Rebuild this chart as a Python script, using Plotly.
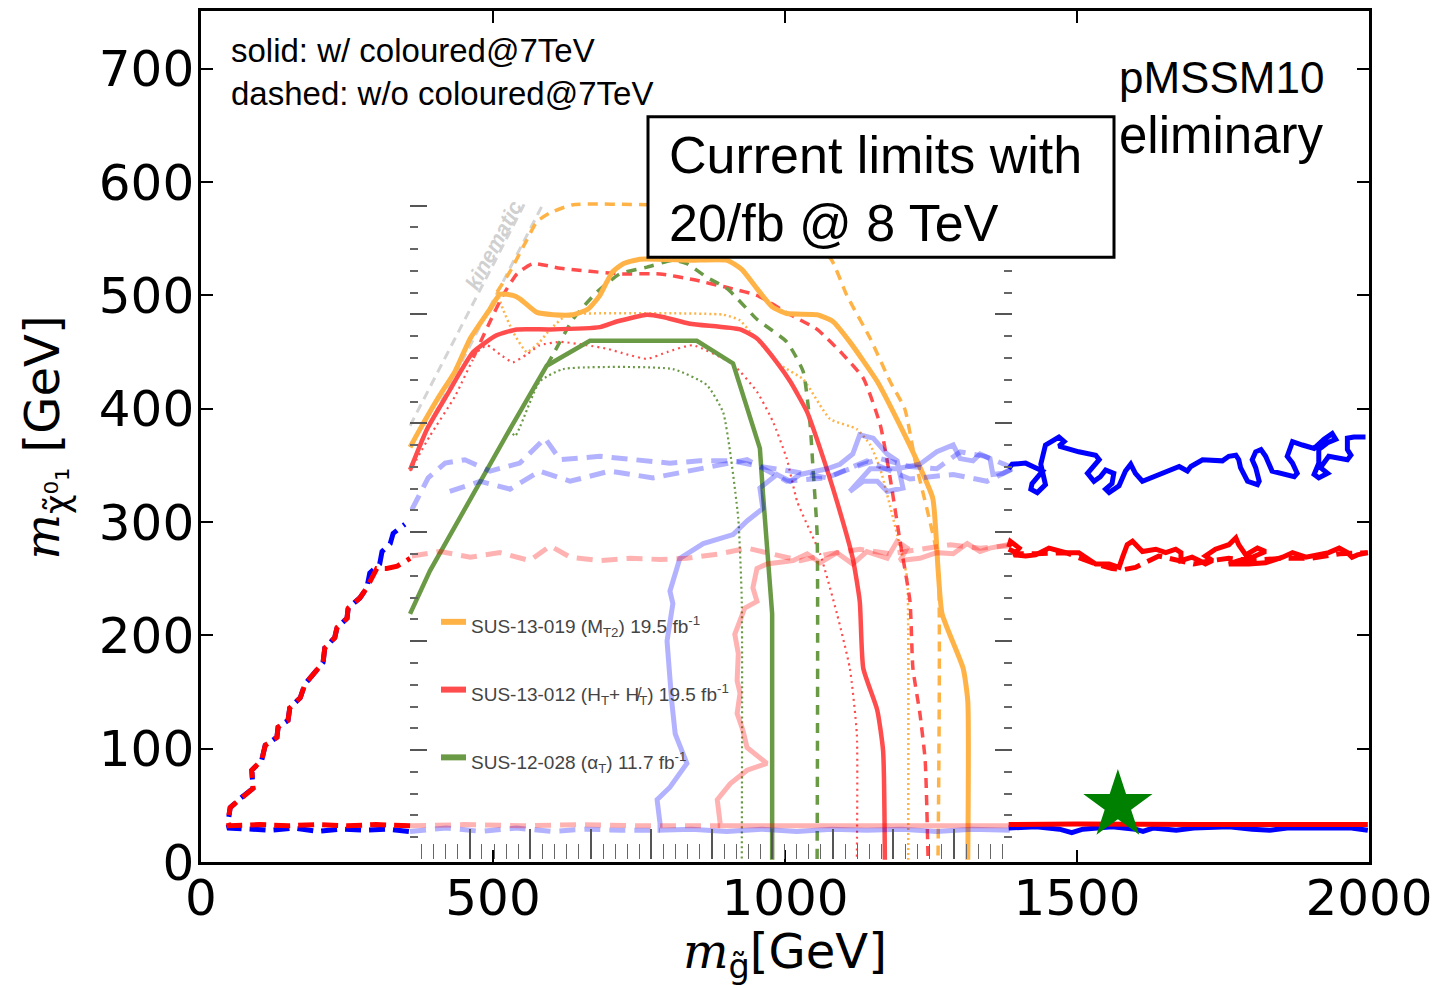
import plotly.graph_objects as go

NARROW = "Liberation Sans, Arial, sans-serif"
MAIN = "DejaVu Sans, sans-serif"

# ---------------- data (GeV) ----------------
# dark contours, left part (dashed)
blue_left_x = [356, 320, 280, 240, 200, 160, 120, 80, 48, 46, 50, 67, 89, 87, 104, 110, 130, 132, 149, 152,
               170, 178, 192, 209, 212, 229, 233, 250, 252, 272, 284, 289, 306, 310, 324, 329, 349]
blue_left_y = [27, 29, 28, 29, 27, 30, 28, 29, 30, 34, 48, 56, 65, 81, 90, 103, 110, 119, 125, 136,
               145, 157, 166, 176, 189, 198, 207, 215, 224, 233, 242, 255, 263, 274, 281, 290, 298]
red_left_x = [358, 300, 250, 200, 150, 100, 48, 46, 50, 67, 89, 87, 104, 110, 130, 132, 149, 152,
              170, 178, 192, 209, 212, 229, 233, 250, 252, 272, 284, 301, 318, 336, 358]
red_left_y = [32, 33, 32, 33, 32, 33, 32, 36, 48, 56, 65, 81, 90, 103, 110, 119, 125, 136,
              145, 157, 166, 176, 189, 198, 207, 215, 224, 233, 242, 259, 259, 261, 268]

# dark contours, right part (solid)
blue_right_x = [1383, 1389, 1412, 1441, 1423, 1421, 1432, 1446, 1438, 1446, 1469, 1478, 1469, 1503, 1532,
                1538, 1518, 1529, 1540, 1549, 1563, 1560, 1549, 1555, 1572, 1583, 1592, 1600, 1612, 1640,
                1675, 1689, 1695, 1715, 1749, 1760, 1772, 1777, 1780, 1792, 1809, 1812, 1806, 1800, 1806,
                1815, 1823, 1834, 1857, 1872, 1877, 1869, 1860, 1869, 1886, 1906, 1923, 1937, 1943, 1929,
                1914, 1914, 1906, 1914, 1929, 1917, 1931, 1963, 1969, 1963, 1963, 1974, 1994]
blue_right_y = [347, 351, 352, 345, 334, 329, 326, 333, 351, 368, 375, 371, 367, 362, 359,
                355, 343, 336, 340, 346, 343, 334, 329, 326, 332, 345, 351, 343, 336, 342,
                349, 345, 349, 355, 354, 358, 359, 355, 348, 336, 333, 336, 348, 355, 362,
                364, 358, 345, 342, 340, 343, 352, 358, 371, 368, 365, 373, 378, 373, 370,
                364, 352, 342, 339, 343, 348, 358, 355, 359, 364, 374, 375, 375]
red_right_x = [1383, 1386, 1401, 1392, 1412, 1429, 1452, 1481, 1503, 1532, 1555, 1572, 1578, 1586, 1595,
               1612, 1635, 1652, 1669, 1678, 1678, 1697, 1709, 1720, 1732, 1720, 1737, 1760, 1772, 1777,
               1789, 1800, 1809, 1823, 1800, 1777, 1760, 1794, 1823, 1852, 1869, 1892, 1909, 1931, 1949,
               1963, 1971, 1980, 1998]
red_right_y = [278, 283, 277, 271, 270, 271, 277, 273, 273, 263, 263, 260, 269, 280, 283,
               274, 276, 273, 276, 273, 266, 269, 266, 263, 266, 270, 276, 280, 286, 280,
               271, 274, 277, 274, 269, 266, 263, 263, 264, 269, 273, 269, 271, 273, 277,
               273, 269, 271, 273]
red_right_dash_x = [1383, 1401, 1430, 1481, 1532, 1560, 1580, 1600, 1640, 1680, 1700, 1730, 1760, 1800,
                    1850, 1900, 1950, 1998]
red_right_dash_y = [276, 272, 272, 273, 263, 259, 258, 260, 270, 265, 263, 266, 268, 266,
                    268, 268, 272, 273]
blue_bot_x = [1383, 1430, 1470, 1491, 1510, 1560, 1600, 1613, 1630, 1670, 1700, 1760, 1800, 1830, 1860,
              1920, 1970, 1998]
blue_bot_y = [30, 31, 29, 26, 29, 31, 29, 27, 30, 28, 30, 31, 29, 28, 30, 30, 30, 28]
red_bot_x = [1383, 1500, 1700, 1900, 1998]
red_bot_y = [33, 33.5, 33, 33.5, 33]

# faded contours (seen through the inset)
fblue_solid_x = [1385, 1320, 1260, 1200, 1140, 1080, 1020, 960, 900, 840,
                 786, 786, 781, 803, 832, 812, 806, 798, 808, 803, 820, 860, 911, 935, 962, 957, 986,
                 1009, 1026, 1072, 1094, 1116, 1128, 1151, 1175, 1192, 1202, 1175, 1158, 1134, 1111,
                 1146, 1192, 1231, 1260, 1288, 1300, 1322, 1334, 1351, 1356, 1373, 1389]
fblue_solid_y = [28, 29, 27, 29, 28, 29, 27, 29, 27, 29,
                 28, 34, 55, 66, 87, 113, 142, 195, 228, 239, 268, 281, 289, 301, 312, 330, 342,
                 336, 342, 347, 351, 360, 377, 374, 360, 354, 330, 327, 336, 336, 327,
                 347, 347, 351, 362, 368, 356, 354, 360, 356, 342, 343, 347]
fblue_dash_a_x = [361, 389, 418, 452, 495, 546, 589, 615, 683, 752, 803, 854, 911, 957, 1009, 1072, 1111,
                  1163, 1214, 1260, 1300, 1342, 1385]
fblue_dash_a_y = [311, 339, 352, 355, 345, 352, 374, 355, 358, 354, 352, 354, 354, 349, 345, 339, 347,
                  356, 349, 347, 362, 358, 349]
fblue_dash_b_x = [426, 478, 529, 580, 632, 700, 774, 854, 935, 1003, 1072, 1140, 1214, 1288, 1346, 1390]
fblue_dash_b_y = [327, 336, 329, 345, 336, 345, 339, 347, 355, 336, 339, 354, 338, 342, 336, 347]
fblue_bot_dash_x = [358, 420, 480, 540, 600, 660, 720, 786]
fblue_bot_dash_y = [27, 30, 27, 30, 27, 29, 28, 28]

fred_solid_x = [1385, 1300, 1200, 1100, 1000, 889, 889, 884, 906, 935, 969, 935, 928, 918, 923, 918,
                920, 914, 931, 952, 945, 952, 969, 1014, 1038, 1060, 1089, 1116, 1140, 1175, 1192,
                1209, 1197, 1231, 1260, 1288, 1312, 1334, 1351, 1373, 1390]
fred_solid_y = [32, 32, 32, 32, 32, 32, 34, 55, 69, 81, 87, 101, 116, 131, 149, 160,
                184, 201, 224, 230, 242, 259, 263, 266, 272, 264, 273, 263, 274, 268, 283,
                277, 266, 268, 273, 272, 281, 274, 277, 279, 281]
fred_dash_x = [361, 409, 461, 512, 563, 598, 632, 683, 735, 786, 832, 889, 935, 974, 1026, 1077, 1128,
               1180, 1231, 1283, 1334, 1385]
fred_dash_y = [270, 274, 269, 273, 266, 279, 269, 266, 268, 267, 268, 272, 277, 272, 266, 272, 276,
               272, 276, 280, 277, 279]
fred_bot_dash_x = [358, 450, 550, 650, 750, 889]
fred_bot_dash_y = [32, 33, 32, 33, 32, 32]

# CMS limits (inset)
orange_obs_x = [358, 375, 409, 435, 461, 495, 512, 534, 546, 575, 603, 637, 663, 683, 695, 705, 723, 752,
                837, 901, 926, 952, 978, 1003, 1055, 1082, 1111, 1158, 1202, 1226, 1253, 1262, 1269,
                1305, 1313, 1313]
orange_obs_y = [366, 382, 412, 433, 462, 488, 501, 500, 497, 485, 483, 483, 488, 500, 512, 521, 528, 532,
                531, 531, 523, 506, 490, 484, 483, 477, 459, 424, 380, 354, 321, 259, 219,
                171, 142, 2]
orange_exp_x = [507, 529, 558, 575, 598, 637, 764, 889, 1026, 1080, 1106, 1146, 1180, 1205, 1223, 1248,
                1262, 1262]
orange_exp_y = [503, 521, 549, 565, 573, 580, 580, 578, 560, 531, 500, 462, 424, 400, 354, 301, 266, 2]
orange_dot_x = [507, 517, 534, 558, 580, 598, 627, 654, 894, 923, 940, 991, 1031, 1077, 1123, 1146, 1163,
                1192, 1209, 1211, 1211]
orange_dot_y = [503, 488, 468, 450, 459, 470, 483, 484, 483, 478, 468, 439, 426, 391, 382, 368, 347,
                289, 251, 201, 2]

red_obs_x = [358, 387, 421, 466, 507, 541, 598, 683, 712, 764, 791, 837, 923, 952, 986, 1009, 1038, 1060,
             1089, 1116, 1128, 1134, 1158, 1168, 1171]
red_obs_y = [346, 382, 412, 450, 465, 470, 470, 472, 477, 483, 481, 475, 470, 462, 441, 424, 397, 365,
             318, 268, 230, 171, 134, 98, 2]
red_exp_x = [466, 495, 517, 541, 568, 615, 717, 786, 842, 901, 952, 1009, 1055, 1099, 1134, 1163, 1180,
             1197, 1214, 1219, 1231, 1240, 1245]
red_exp_y = [445, 477, 500, 519, 528, 524, 519, 519, 514, 507, 500, 483, 470, 448, 427, 386, 339,
             283, 230, 171, 131, 90, 2]
red_dot_x = [358, 392, 435, 473, 490, 512, 534, 558, 580, 615, 661, 695, 729, 764, 798, 842, 911, 952,
             979, 1003, 1021, 1060, 1089, 1111, 1123, 1123]
red_dot_y = [345, 376, 411, 450, 456, 448, 441, 448, 456, 459, 456, 453, 448, 444, 450, 456, 439, 415,
             389, 356, 318, 272, 219, 171, 113, 2]

green_obs_x = [358, 392, 529, 592, 666, 849, 911, 957, 962, 969, 978, 978]
green_obs_y = [219, 257, 382, 438, 460, 460, 440, 365, 327, 277, 219, 2]
green_exp_x = [592, 603, 637, 678, 717, 764, 808, 832, 866, 901, 952, 1003, 1031, 1043, 1048, 1055, 1055]
green_exp_y = [438, 448, 479, 503, 519, 525, 531, 528, 516, 506, 479, 459, 433, 386, 347, 289, 2]
green_dot_x = [529, 538, 580, 620, 808, 866, 894, 906, 920, 926, 926]
green_dot_y = [382, 376, 424, 435, 435, 421, 397, 362, 303, 230, 2]

kin1_x = [358, 555]
kin1_y = [385, 582]
kin2_x = [376, 585]
kin2_y = [371, 580]

star_x = [1570]
star_y = [50]

x_ticks = [0, 500, 1000, 1500, 2000]
y_ticks = [0, 100, 200, 300, 400, 500, 600, 700]

legend_labels = ["SUS-13-019 (M<sub>T2</sub>) 19.5 fb<sup>-1</sup>",
                 "SUS-13-012 (H<sub>T</sub>+ H\u0338<sub>T</sub>) 19.5 fb<sup>-1</sup>",
                 "SUS-12-028 (\u03b1<sub>T</sub>) 11.7 fb<sup>-1</sup>"]

# ---------------- colours ----------------
ORANGE = "#FFB347"
RED_C = "#FF4D4D"
GREEN = "#6B9A46"
FBLUE = "rgba(0,0,255,0.30)"
FRED = "rgba(255,0,0,0.30)"

# ---------------- layout geometry (pixels of the 1448x985 page) ----------------
W, H = 1448, 985
L, R, T, B = 201, 1369, 8, 862


def px(xp):
    return (xp - L) / (R - L)


def py(yp):
    return (B - yp) / (B - T)


fig = go.Figure()


def add_line(x, y, color, width, dash="solid", shape="linear"):
    line = dict(color=color, width=width, dash=dash, shape=shape)
    if shape == "spline":
        line["smoothing"] = 0.5
    fig.add_trace(go.Scatter(x=x, y=y, mode="lines", line=line,
                             hoverinfo="skip", showlegend=False))


# kinematic limit lines
add_line(kin1_x, kin1_y, "#d4d4d4", 3, "9px,6px")
add_line(kin2_x, kin2_y, "#d4d4d4", 3, "9px,6px")

# CMS curves
add_line(orange_dot_x, orange_dot_y, ORANGE, 2.5, "2px,3px", "spline")
add_line(orange_exp_x, orange_exp_y, ORANGE, 3.5, "10px,7px", "spline")
add_line(red_dot_x, red_dot_y, RED_C, 2.2, "2px,4px", "spline")
add_line(red_exp_x, red_exp_y, RED_C, 3.5, "10px,7px", "spline")
add_line(green_dot_x, green_dot_y, GREEN, 2.2, "2px,3px", "spline")
add_line(green_exp_x, green_exp_y, GREEN, 3.5, "10px,8px", "spline")
add_line(orange_obs_x, orange_obs_y, ORANGE, 5, "solid", "spline")
add_line(red_obs_x, red_obs_y, RED_C, 4.5, "solid", "spline")
add_line(green_obs_x, green_obs_y, GREEN, 4.5, "solid")

# faded contours
add_line(fblue_dash_a_x, fblue_dash_a_y, FBLUE, 5, "16px,9px")
add_line(fblue_dash_b_x, fblue_dash_b_y, FBLUE, 5, "16px,9px")
add_line(fblue_bot_dash_x, fblue_bot_dash_y, FBLUE, 5, "16px,9px")
add_line(fblue_solid_x, fblue_solid_y, FBLUE, 5)
add_line(fred_dash_x, fred_dash_y, FRED, 5, "16px,9px")
add_line(fred_bot_dash_x, fred_bot_dash_y, FRED, 5, "16px,9px")
add_line(fred_solid_x, fred_solid_y, FRED, 5)

# dark contours
add_line(blue_left_x, blue_left_y, "#0000FF", 5, "16px,8px")
add_line(red_left_x, red_left_y, "#FF0000", 5, "16px,8px")
add_line(blue_right_x, blue_right_y, "#0000FF", 5)
add_line(red_right_dash_x, red_right_dash_y, "#FF0000", 5, "16px,8px")
add_line(red_right_x, red_right_y, "#FF0000", 5)
add_line(blue_bot_x, blue_bot_y, "#0000FF", 5)
add_line(red_bot_x, red_bot_y, "#FF0000", 5)

# best-fit star
fig.add_trace(go.Scatter(x=star_x, y=star_y, mode="markers",
                         marker=dict(symbol="star", size=52, color="#008000", line=dict(width=0)),
                         hoverinfo="skip", showlegend=False))

# invisible trace for the inset axes
fig.add_trace(go.Scatter(x=[0], y=[0], xaxis="x2", yaxis="y2", mode="markers",
                         marker=dict(opacity=0), hoverinfo="skip", showlegend=False))

shapes = []
annotations = []

# inset legend
leg_colors = [ORANGE, RED_C, GREEN]
leg_line_py = [621, 689, 757]
for lab, col, lp in zip(legend_labels, leg_colors, leg_line_py):
    shapes.append(dict(type="line", xref="paper", yref="paper", x0=px(441), x1=px(466),
                       y0=py(lp), y1=py(lp), line=dict(color=col, width=6), layer="above"))
    annotations.append(dict(xref="paper", yref="paper", x=px(469), y=py(lp + 5), text=lab,
                            showarrow=False, xanchor="left", yanchor="middle",
                            font=dict(family=NARROW, size=19, color="#444444")))

# "kinematic" label
annotations.append(dict(xref="paper", yref="paper", x=px(493), y=py(243), text="<b><i>kinematic</i></b>",
                        textangle=-62, showarrow=False, xanchor="center", yanchor="middle",
                        font=dict(family="Liberation Sans, sans-serif", size=21, color="#d0d0d0")))

# box "Current limits"
shapes.append(dict(type="rect", xref="paper", yref="paper", x0=px(648), x1=px(1114),
                   y0=py(255), y1=py(114), line=dict(color="black", width=3),
                   fillcolor="white", layer="above"))
annotations.append(dict(xref="paper", yref="paper", x=px(667), y=py(187),
                        text="Current limits with<br>20/fb @ 8 TeV", showarrow=False,
                        xanchor="left", yanchor="middle", align="left",
                        font=dict(family=NARROW, size=52, color="black")))

annotations.append(dict(xref="paper", yref="paper", x=px(229), y=py(69),
                        text="solid: w/ coloured@7TeV<br>dashed: w/o coloured@7TeV", showarrow=False,
                        xanchor="left", yanchor="middle", align="left",
                        font=dict(family=NARROW, size=33, color="black")))
annotations.append(dict(xref="paper", yref="paper", x=px(1326), y=py(75), text="pMSSM10",
                        showarrow=False, xanchor="right", yanchor="middle",
                        font=dict(family=NARROW, size=44, color="black")))
annotations.append(dict(xref="paper", yref="paper", x=px(1326), y=py(133), text="eliminary",
                        showarrow=False, xanchor="right", yanchor="middle",
                        font=dict(family=NARROW, size=51, color="black")))

# axis titles
annotations.append(dict(xref="paper", yref="paper", x=px(785), y=py(955),
                        text="<span style='font-family:DejaVu Serif'><i>m</i></span><sub>g\u0303</sub>[GeV]",
                        showarrow=False, xanchor="center", yanchor="middle",
                        font=dict(family=MAIN, size=48, color="black")))
annotations.append(dict(xref="paper", yref="paper", x=px(45), y=py(436),
                        text="<span style='font-family:DejaVu Serif'><i>m</i></span><sub>\u03c7\u0303\u2070\u2081</sub> [GeV]",
                        textangle=-90, showarrow=False, xanchor="center", yanchor="middle",
                        font=dict(family=MAIN, size=48, color="black")))

fig.update_layout(
    width=W, height=H,
    margin=dict(l=L, r=W - R, t=T, b=H - B),
    paper_bgcolor="white", plot_bgcolor="rgba(0,0,0,0)",
    showlegend=False,
    shapes=shapes, annotations=annotations,
    xaxis=dict(range=[0, 2000], tickvals=x_ticks, ticktext=[str(v) for v in x_ticks],
               ticks="inside", ticklen=12, tickwidth=1.5, tickcolor="black",
               showline=True, linewidth=2.5, linecolor="black", mirror="ticks",
               showgrid=False, zeroline=False, ticklabelstandoff=-10,
               tickfont=dict(family=MAIN, size=50, color="black")),
    yaxis=dict(range=[0, 751], tickvals=y_ticks, ticktext=[str(v) for v in y_ticks],
               ticks="inside", ticklen=12, tickwidth=1.5, tickcolor="black",
               showline=True, linewidth=2.5, linecolor="black", mirror="ticks",
               showgrid=False, zeroline=False, ticklabelstandoff=-6,
               tickfont=dict(family=MAIN, size=50, color="black")),
    xaxis2=dict(domain=[px(410), px(1012)], anchor="y2", range=[0, (1012 - 410) / 60.5],
                tick0=0.99, dtick=1, ticks="inside", ticklen=30, tickwidth=1.5, tickcolor="#555555",
                minor=dict(ticks="inside", tick0=0.99, dtick=0.2, ticklen=15, tickwidth=1.2,
                           tickcolor="#666666"),
                showticklabels=False, showgrid=False, zeroline=False, showline=False),
    yaxis2=dict(domain=[py(859), py(200)], anchor="x2", range=[0, (859 - 200) / 109.3],
                tick0=0, dtick=1, ticks="inside", ticklen=17, tickwidth=2, tickcolor="#555555",
                minor=dict(ticks="inside", dtick=0.2, ticklen=8, tickwidth=2, tickcolor="#666666"),
                showticklabels=False, showgrid=False, zeroline=False,
                showline=True, linecolor="rgba(0,0,0,0)", mirror="ticks"),
)

fig.write_html("out.html")
